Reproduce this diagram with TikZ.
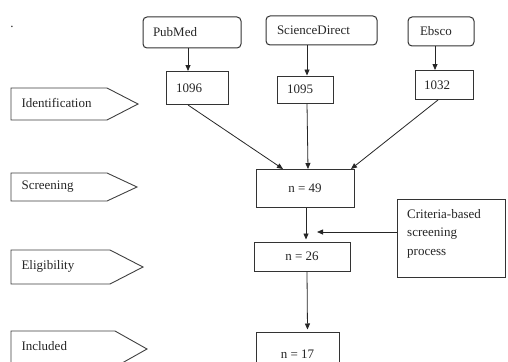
\documentclass[tikz,border=0pt]{standalone}
\usepackage{fontspec}
\setmainfont{Liberation Serif}
\usetikzlibrary{arrows.meta}
\begin{document}
\begin{tikzpicture}[x=1pt,y=-1pt,
  every node/.style={font=\fontsize{13}{15}\selectfont, text=black!85},
  box/.style={draw=black!80, line width=1pt, rectangle, inner sep=0pt},
  rbox/.style={box, rounded corners=4pt},
  stage/.style={draw=black!75, line width=0.9pt},
  arr/.style={draw=black!85, line width=0.8pt, -{Triangle[length=6pt,width=5pt]}},
]
\clip (0,0) rectangle (508,361);
\fill[white] (0,0) rectangle (508,361);
\node[inner sep=0pt] (dot) at (12,27) {.};
% source boxes
\node[rbox, minimum width=98pt, minimum height=31pt, text width=78pt, align=left] (pub) at (192,32.5) {PubMed};
\node[rbox, minimum width=111pt, minimum height=29pt, text width=89pt, align=left] (sd) at (321.5,30.5) {ScienceDirect};
\node[rbox, minimum width=66pt, minimum height=29pt, text width=42pt, align=left] (eb) at (441,31.5) {Ebsco};
% count boxes
\node[box, minimum width=62pt, minimum height=33pt, text width=42pt, align=left] (a) at (197,88) {1096};
\node[box, minimum width=56pt, minimum height=27pt, text width=36pt, align=left] (b) at (305,89.5) {1095};
\node[box, minimum width=58pt, minimum height=29pt, text width=40pt, align=left] (c) at (444,85) {1032};
\node[box, minimum width=98pt, minimum height=38pt] (n49) at (305,188.5) {n = 49};
\node[box, minimum width=96pt, minimum height=29pt] (n26) at (302,256.5) {n = 26};
\node[box, minimum width=83pt, minimum height=44pt] (n17) at (297.5,354) {n = 17};
\node[box, minimum width=108pt, minimum height=78pt, anchor=north west] (crit) at (397,199) {};
\node[anchor=north west, align=left, inner sep=0pt, font=\fontsize{13}{18.5}\selectfont] (crittext) at (407,209)
  {Criteria-based\\screening\\process};
% stage labels
\draw[stage] (11,88) -- (107,88) -- (138,104) -- (107,120) -- (11,120) -- cycle;
\node[anchor=west] (lid) at (18,103) {Identification};
\draw[stage] (11,173) -- (107,173) -- (137,187) -- (107,201) -- (11,201) -- cycle;
\node[anchor=west] (lsc) at (18,187) {Screening};
\draw[stage] (11,250) -- (110,250) -- (143,267) -- (110,284) -- (11,284) -- cycle;
\node[anchor=west] (lel) at (18,266) {Eligibility};
\draw[stage] (11,331) -- (115,331) -- (147,349) -- (115,367) -- (11,367) -- cycle;
\node[anchor=west] (lin) at (18,346) {Included};
% connectors
\draw[arr] ([xshift=-4pt]pub.south) -- ([xshift=-9pt]a.north);
\draw[arr] ([xshift=2pt]b.north |- sd.south) -- ([xshift=2pt]b.north);
\draw[arr] ([xshift=-6pt]eb.south) -- ([xshift=-9pt]c.north);
\draw[arr] ([xshift=-9pt]a.south) -- ([xshift=-22pt]n49.north);
\draw[arr] ([xshift=2pt]b.south) -- ([xshift=3pt]n49.north);
\draw[arr] ([xshift=-6pt]c.south) -- ([xshift=46pt]n49.north);
\draw[arr, shorten >=2pt] ([xshift=1pt]n49.south) -- ([xshift=4pt]n26.north);
\coordinate (mid) at (317,232);
\draw[arr] (crit.west |- mid) -- (mid);
\draw[arr, shorten >=2pt] ([xshift=5pt]n26.south) -- ([xshift=10pt]n17.north);
\end{tikzpicture}
\end{document}
